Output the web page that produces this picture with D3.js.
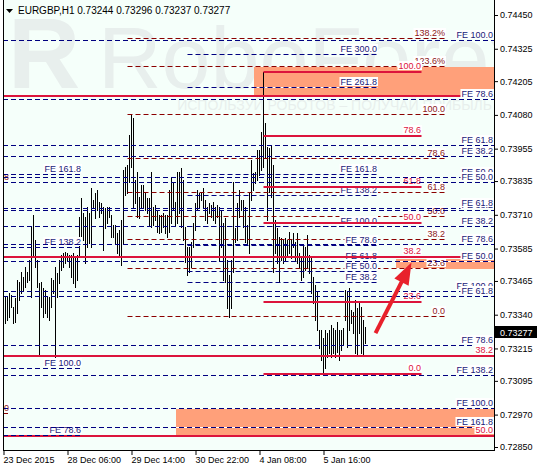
<!DOCTYPE html>
<html>
<head>
<meta charset="utf-8">
<script src="https://cdn.jsdelivr.net/npm/d3@7"></script>
<style>
body { margin: 0; background: #fff; }
svg text { font-family: "Liberation Sans", Arial, sans-serif; font-size: 9px; }
</style>
</head>
<body>
<svg id="chart" width="537" height="467"></svg>
<script>
// quote header
var symbol = "EURGBP,H1";
var lastQuote = [0.73244, 0.73296, 0.73237, 0.73277];

// H1 bars (bar index 0 = 23 Dec 2015)
var highs = [
  0.73346,0.73406,0.73406,0.73420,0.73413,0.73369,0.73402,0.73469,0.73461,0.73498,
  0.73480,0.73517,0.73498,0.73543,0.73665,0.73709,0.73617,0.73543,0.73457,0.73461,
  0.73439,0.73432,0.73406,0.73406,0.73476,0.73469,0.73517,0.73494,0.73543,0.73561,
  0.73569,0.73572,0.73569,0.73561,0.73561,0.73569,0.73554,0.73561,0.73702,0.73772,
  0.73717,0.73702,0.73739,0.73717,0.73809,0.73765,0.73791,0.73802,0.73757,0.73754,
  0.73739,0.73735,0.73739,0.73739,0.73709,0.73672,0.73672,0.73643,0.73654,0.73691,
  0.73876,0.73887,0.73894,0.74006,0.74080,0.74068,0.73839,0.73869,0.73776,0.73820,
  0.73820,0.73791,0.73772,0.73772,0.73869,0.73739,0.73746,0.73728,0.73709,0.73709,
  0.73717,0.73709,0.73709,0.73802,0.73846,0.73832,0.73757,0.73869,0.73869,0.73883,
  0.73839,0.73665,0.73591,0.73591,0.73609,0.73680,0.73754,0.73802,0.73791,0.73794,
  0.73809,0.73765,0.73739,0.73754,0.73746,0.73757,0.73739,0.73746,0.73739,0.73728,
  0.73680,0.73698,0.73543,0.73487,0.73543,0.73832,0.73661,0.73754,0.73802,0.73765,
  0.73765,0.73739,0.73672,0.73791,0.73913,0.73865,0.73869,0.73950,0.73950,0.74017,
  0.74239,0.74050,0.73961,0.73957,0.73968,0.73894,0.73691,0.73661,0.73628,0.73624,
  0.73617,0.73624,0.73617,0.73646,0.73617,0.73643,0.73609,0.73643,0.73569,0.73554,
  0.73598,0.73591,0.73635,0.73561,0.73554,0.73480,0.73450,0.73424,0.73283,0.73283,
  0.73254,0.73283,0.73272,0.73283,0.73302,0.73291,0.73283,0.73313,0.73283,0.73283,
  0.73291,0.73432,0.73424,0.73439,0.73357,0.73350,0.73394,0.73365,0.73383,0.73369,
  0.73320,0.73296
];
var lows = [
  0.73109,0.73309,0.73320,0.73331,0.73369,0.73309,0.73313,0.73346,0.73394,0.73420,
  0.73432,0.73443,0.73461,0.73469,0.73406,0.73554,0.73517,0.73443,0.73191,0.73369,
  0.73331,0.73346,0.73331,0.73320,0.73369,0.73420,0.73183,0.73406,0.73457,0.73506,
  0.73517,0.73532,0.73543,0.73517,0.73480,0.73457,0.73443,0.73469,0.73554,0.73606,
  0.73617,0.73532,0.73591,0.73606,0.73591,0.73739,0.73698,0.73728,0.73702,0.73717,
  0.73580,0.73661,0.73680,0.73702,0.73628,0.73628,0.73606,0.73569,0.73554,0.73524,
  0.73606,0.73783,0.73791,0.73832,0.73887,0.73739,0.73754,0.73702,0.73698,0.73735,
  0.73735,0.73728,0.73717,0.73672,0.73665,0.73672,0.73691,0.73646,0.73643,0.73646,
  0.73665,0.73643,0.73628,0.73646,0.73680,0.73728,0.73672,0.73680,0.73717,0.73665,
  0.73617,0.73535,0.73487,0.73498,0.73517,0.73591,0.73654,0.73728,0.73739,0.73765,
  0.73739,0.73691,0.73680,0.73717,0.73702,0.73691,0.73680,0.73702,0.73543,0.73591,
  0.73469,0.73461,0.73365,0.73331,0.73365,0.73498,0.73609,0.73617,0.73702,0.73728,
  0.73665,0.73609,0.73606,0.73569,0.73765,0.73802,0.73828,0.73839,0.73857,0.73876,
  0.73887,0.73924,0.73691,0.73794,0.73776,0.73498,0.73569,0.73532,0.73461,0.73543,
  0.73532,0.73543,0.73554,0.73569,0.73550,0.73591,0.73543,0.73532,0.73517,0.73469,
  0.73480,0.73506,0.73517,0.73494,0.73420,0.73383,0.73320,0.73283,0.73217,0.73172,
  0.73124,0.73143,0.73183,0.73198,0.73183,0.73198,0.73183,0.73202,0.73172,0.73209,
  0.73228,0.73320,0.73220,0.73283,0.73309,0.73272,0.73198,0.73191,0.73272,0.73198,
  0.73191,0.73237
];

// axes
var timeTickBars = [0, 32, 64, 96, 128, 160];
var timeTickLabels = ["23 Dec 2015", "28 Dec 06:00", "29 Dec 14:00", "30 Dec 22:00", "4 Jan 08:00", "5 Jan 16:00"];
var priceTicks = [0.74450, 0.74325, 0.74205, 0.74080, 0.73955, 0.73835, 0.73710,
                  0.73585, 0.73465, 0.73340, 0.73215, 0.73095, 0.72970, 0.72850];

// fibo retracement (dashed)
var retrLevels = ["138.2%", "123.6%", "100.0", "78.6", "61.8", "50.0", "38.2", "23.6", "0.0"];
var retrPrices = [0.74365, 0.74261, 0.74083, 0.73920, 0.73794, 0.73706, 0.73620, 0.73513, 0.73335];
var retrSpan = [62, 221];

// fibo retracement (solid red)
var zoneLevels = ["100.0", "78.6", "61.8", "50.0", "38.2", "23.6", "0.0"];
var zonePrices = [0.74239, 0.74002, 0.73813, 0.73680, 0.73554, 0.73387, 0.73120];
var zoneSpan = [130, 209];

// fibo expansions
var feLeftLevels = ["FE 161.8", "FE 138.2", "FE 100.0", "FE 78.6"];
var feLeftPrices = [0.73861, 0.73591, 0.73143, 0.72893];
var feLeftSpan = [-6, 39];

var feMidLevels = ["FE 300.0", "FE 261.8", "FE 161.8", "FE 138.2", "FE 100.0", "FE 78.6", "FE 61.8", "FE 50.0", "FE 38.2"];
var feMidPrices = [0.74306, 0.74183, 0.73861, 0.73783, 0.73669, 0.73598, 0.73539, 0.73502, 0.73461];
var feMidSpan = [92, 187];

var feUpLevels = ["FE 100.0", "FE 78.6", "FE 61.8", "FE 50.0", "FE 38.2"];
var feUpPrices = [0.74357, 0.74139, 0.73969, 0.73850, 0.73728];
var feDownLevels = ["FE 38.2", "FE 50.0", "FE 61.8", "FE 78.6", "FE 100.0", "FE 138.2", "FE 161.8"];
var feDownPrices = [0.73928, 0.73832, 0.73735, 0.73602, 0.73428, 0.73117, 0.72924];
var feLowLevels = ["FE 38.2", "FE 50.0", "FE 61.8", "FE 78.6", "FE 100.0"];
var feLowPrices = [0.73669, 0.73539, 0.73409, 0.73228, 0.72994];
var feRightSpan = [-6, 250];

// clipped retracement at the left edge
var edgeLevels = ["61.8", "0.0"];
var edgePrices = [0.73833, 0.72976];
var edgeSpan = [-12, 3];

// long support / resistance lines
var srLabels = ["", "", "38.2", "50.0"];
var srPrices = [0.74150, 0.73554, 0.73187, 0.72891];

// shaded zones: start bar, top, bottom
var zoneStart = [125, 196, 86];
var zoneTop = [0.74257, 0.73546, 0.72991];
var zoneBottom = [0.74150, 0.73509, 0.72891];

// arrow: bar index, price
var arrowFrom = [186, 0.73272];
var arrowTo = [204, 0.73533];

var svg = d3.select("#chart"),
    plot = {left: 3, right: 494, top: 0, bottom: 450};

var x = d3.scaleLinear().domain([0, 245]).range([3.5, 493.5]);
var y = d3.scaleLinear().domain([0.72850, 0.74450]).range([447, 15]);

function py(p) { return Math.round(y(p)) + 0.5; }
function px(i) { return Math.max(plot.left, Math.min(plot.right, x(i))); }

var navy = "#000080", navyText = "#1a1a78", darkRed = "#8b0000", darkRedText = "#8b1a1a",
    crimson = "#dc143c", salmon = "#ffa07a";

svg.append("rect").attr("width", 537).attr("height", 467).attr("fill", "#fff");
svg.append("rect")
    .attr("x", plot.left).attr("y", plot.top)
    .attr("width", plot.right - plot.left).attr("height", plot.bottom - plot.top)
    .attr("fill", "#f5fffa");

var defs = svg.append("defs");
defs.append("clipPath").attr("id", "plotClip")
  .append("rect")
    .attr("x", plot.left).attr("y", plot.top)
    .attr("width", plot.right - plot.left).attr("height", plot.bottom - plot.top);

var zoneClip = defs.append("clipPath").attr("id", "zoneClip");
zoneStart.forEach(function(s, i) {
  zoneClip.append("rect")
      .attr("x", x(s)).attr("y", y(zoneTop[i]))
      .attr("width", plot.right - x(s)).attr("height", y(zoneBottom[i]) - y(zoneTop[i]));
});

var g = svg.append("g").attr("clip-path", "url(#plotClip)");

// watermark
var wm = g.append("g").attr("fill", "#e8efed");
wm.append("text").attr("x", 8).attr("y", 88)
    .style("font-size", "100px").style("font-weight", "bold").text("R");
wm.append("text").attr("x", 98).attr("y", 88)
    .style("font-size", "88px").text("RoboForex");
wm.append("text").attr("x", 492).attr("y", 110).attr("text-anchor", "end")
    .style("font-size", "14px").text("ИСПОЛЬЗУЙ РОБОТОВ – ПОЛУЧАЙ ПРИБЫЛЬ");

// shaded zones
g.selectAll(".zone")
  .data(zoneStart)
  .enter().append("rect")
    .attr("class", "zone")
    .attr("x", function(d) { return Math.round(x(d)); })
    .attr("y", function(d, i) { return Math.round(y(zoneTop[i])); })
    .attr("width", function(d) { return plot.right - Math.round(x(d)); })
    .attr("height", function(d, i) { return Math.round(y(zoneBottom[i])) - Math.round(y(zoneTop[i])); })
    .attr("fill", salmon);

// bars
g.append("g").selectAll("line")
  .data(highs)
  .enter().append("line")
    .attr("x1", function(d, i) { return x(i); })
    .attr("x2", function(d, i) { return x(i); })
    .attr("y1", function(d) { return Math.round(y(d)); })
    .attr("y2", function(d, i) { return Math.round(y(lows[i])) + 1; })
    .attr("stroke", "#000").attr("stroke-width", 1)
    .attr("shape-rendering", "crispEdges");

function addLabel(layer, txt, xr, ly, color) {
  if (!txt) return;
  var t = layer.append("text")
      .attr("x", xr).attr("y", ly - 2.5)
      .attr("text-anchor", "end")
      .attr("fill", color).text(txt);
  var b = t.node().getBBox();
  layer.insert("rect", function() { return t.node(); })
      .attr("x", b.x - 1).attr("y", b.y)
      .attr("width", b.width + 2).attr("height", b.height - 1)
      .attr("fill", "#fff");
}

function dashedSet(layer, labels, prices, span, color, textColor, withLabels) {
  prices.forEach(function(p, i) {
    var yy = py(p);
    layer.append("line")
        .attr("x1", px(span[0])).attr("x2", px(span[1]))
        .attr("y1", yy).attr("y2", yy)
        .attr("stroke", "#fff").attr("clip-path", "url(#zoneClip)");
    layer.append("line")
        .attr("x1", px(span[0])).attr("x2", px(span[1]))
        .attr("y1", yy).attr("y2", yy)
        .attr("stroke", color).attr("stroke-dasharray", "5,3");
    if (withLabels) addLabel(layer, labels[i], px(span[1]) - 0.5, yy, textColor);
  });
}

function solidSet(layer, labels, prices, span, withLabels) {
  prices.forEach(function(p, i) {
    var yy = Math.round(y(p));
    layer.append("line")
        .attr("x1", px(span[0])).attr("x2", px(span[1]))
        .attr("y1", yy).attr("y2", yy)
        .attr("stroke", crimson).attr("stroke-width", 2);
    if (withLabels) addLabel(layer, labels[i], px(span[1]) - 0.5, yy - 0.5, crimson);
  });
}

// long red levels
var srLayer = g.append("g");
solidSet(srLayer, srLabels, srPrices, feRightSpan, false);

// retracement, expansions
dashedSet(g.append("g"), retrLevels, retrPrices, retrSpan, darkRed, darkRedText, true);
dashedSet(g.append("g"), edgeLevels, edgePrices, edgeSpan, darkRed, darkRedText, true);
dashedSet(g.append("g"), feLeftLevels, feLeftPrices, feLeftSpan, navy, navyText, true);
dashedSet(g.append("g"), feMidLevels, feMidPrices, feMidSpan, navy, navyText, true);

// red retracement
solidSet(g.append("g"), zoneLevels, zonePrices, zoneSpan, true);

// right-hand expansions, labels last so their boxes sit on top
var rightLines = g.append("g");
dashedSet(rightLines, feUpLevels, feUpPrices, feRightSpan, navy, navyText, false);
dashedSet(rightLines, feDownLevels, feDownPrices, feRightSpan, navy, navyText, false);
dashedSet(rightLines, feLowLevels, feLowPrices, feRightSpan, navy, navyText, false);

var rightLabels = g.append("g");
[[feUpLevels, feUpPrices], [feDownLevels, feDownPrices], [feLowLevels, feLowPrices]].forEach(function(s) {
  s[1].forEach(function(p, i) { addLabel(rightLabels, s[0][i], plot.right - 1, py(p), navyText); });
});
srPrices.forEach(function(p, i) {
  addLabel(rightLabels, srLabels[i], plot.right - 1, Math.round(y(p)) - 0.5, crimson);
});

// arrow
var ax0 = x(arrowFrom[0]), ay0 = y(arrowFrom[1]), ax1 = x(arrowTo[0]), ay1 = y(arrowTo[1]);
var len = Math.hypot(ax1 - ax0, ay1 - ay0), ux = (ax1 - ax0) / len, uy = (ay1 - ay0) / len,
    headLen = 22, headW = 8;
var bx = ax1 - ux * headLen, by = ay1 - uy * headLen;
g.append("line")
    .attr("x1", ax0).attr("y1", ay0).attr("x2", bx + ux * 2).attr("y2", by + uy * 2)
    .attr("stroke", "#e8212b").attr("stroke-width", 4);
g.append("path")
    .attr("d", "M" + ax1 + "," + ay1 +
               "L" + (bx - uy * headW) + "," + (by + ux * headW) +
               "L" + (bx + uy * headW) + "," + (by - ux * headW) + "Z")
    .attr("fill", "#e8212b");

// frame
var frame = svg.append("g").attr("stroke", "#000").attr("shape-rendering", "crispEdges");
frame.append("line").attr("x1", plot.left + 0.5).attr("x2", plot.left + 0.5).attr("y1", plot.top).attr("y2", plot.bottom);
frame.append("line").attr("x1", plot.right + 0.5).attr("x2", plot.right + 0.5).attr("y1", plot.top).attr("y2", plot.bottom + 1);
frame.append("line").attr("x1", plot.left).attr("x2", plot.right + 1).attr("y1", plot.bottom + 0.5).attr("y2", plot.bottom + 0.5);

// price axis
var yAxis = d3.axisRight(y).tickValues(priceTicks).tickFormat(d3.format(".5f")).tickSize(3).tickSizeOuter(0);
var ya = svg.append("g").attr("transform", "translate(" + (plot.right + 1) + ",0)").call(yAxis);
ya.select(".domain").remove();
ya.selectAll("text").attr("x", 5).attr("fill", "#000").style("font-size", "9px").style("font-family", "Liberation Sans, Arial, sans-serif");
ya.selectAll("line").attr("stroke", "#000");

// time axis
var xAxis = d3.axisBottom(x).tickValues(timeTickBars)
    .tickFormat(function(d, i) { return timeTickLabels[i]; }).tickSize(4).tickSizeOuter(0);
var xa = svg.append("g").attr("transform", "translate(0," + (plot.bottom + 1) + ")").call(xAxis);
xa.select(".domain").remove();
xa.selectAll("text").attr("text-anchor", "start").attr("x", -0.5).attr("y", 12).attr("dy", null)
    .attr("fill", "#000").style("font-size", "9px").style("font-family", "Liberation Sans, Arial, sans-serif");
xa.selectAll("line").attr("stroke", "#000");

// current price tag
var cy = Math.round(y(lastQuote[3]));
svg.append("rect").attr("x", plot.right + 1).attr("y", cy - 6).attr("width", 537 - plot.right).attr("height", 12).attr("fill", "#000");
svg.append("text").attr("x", plot.right + 6).attr("y", cy + 3.5).attr("fill", "#fff").text(d3.format(".5f")(lastQuote[3]));

// header
svg.append("path").attr("d", "M6,9L13,9L9.5,13Z").attr("fill", "#000");
svg.append("text").attr("x", 18).attr("y", 14).attr("fill", "#000").style("font-size", "10px")
    .text(symbol + "  " + lastQuote.map(d3.format(".5f")).join(" "));
</script>
</body>
</html>
